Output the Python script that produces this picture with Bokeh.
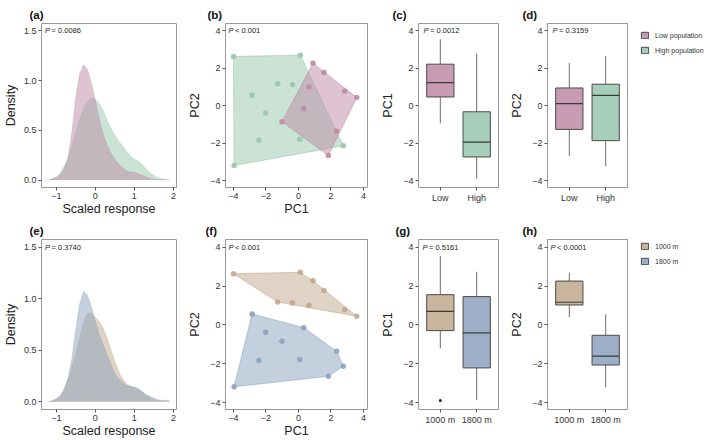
from bokeh.plotting import figure
from bokeh.models import Range1d, FixedTicker, Legend, LegendItem
from bokeh.layouts import row, column
from bokeh.embed import file_html
from bokeh.resources import INLINE
from bokeh.core.properties import value

FONT = "Liberation Sans"

# ---------------- data ----------------
dens_x = [-1.2, -1.1, -1.0, -0.9, -0.8, -0.7, -0.6, -0.5, -0.4, -0.3, -0.2, -0.1,
          0.0, 0.1, 0.2, 0.3, 0.4, 0.5, 0.6, 0.7, 0.8, 0.9, 1.0, 1.1,
          1.2, 1.3, 1.4, 1.5, 1.6, 1.7, 1.8, 1.9]
dens_low = [0.00, 0.01, 0.02, 0.05, 0.11, 0.22, 0.48, 0.83, 1.07, 1.16, 1.11, 0.97,
            0.80, 0.62, 0.46, 0.35, 0.27, 0.21, 0.16, 0.12, 0.09, 0.08, 0.08, 0.06,
            0.045, 0.03, 0.015, 0.008, 0.004, 0.002, 0.001, 0.0]
dens_high = [0.00, 0.01, 0.03, 0.07, 0.14, 0.22, 0.34, 0.48, 0.62, 0.72, 0.79, 0.83,
             0.81, 0.77, 0.70, 0.60, 0.52, 0.45, 0.39, 0.34, 0.29, 0.24, 0.21, 0.19,
             0.16, 0.11, 0.07, 0.045, 0.025, 0.012, 0.006, 0.002]
dens_1000 = [0.00, 0.01, 0.03, 0.06, 0.13, 0.22, 0.33, 0.47, 0.62, 0.78, 0.86, 0.86,
             0.82, 0.78, 0.71, 0.62, 0.50, 0.39, 0.29, 0.22, 0.17, 0.15, 0.14, 0.12,
             0.09, 0.06, 0.04, 0.02, 0.01, 0.005, 0.002, 0.0]
dens_1800 = [0.00, 0.01, 0.025, 0.05, 0.11, 0.22, 0.42, 0.70, 0.95, 1.07, 1.03, 0.92,
             0.78, 0.65, 0.55, 0.46, 0.36, 0.27, 0.22, 0.19, 0.16, 0.15, 0.14, 0.13,
             0.10, 0.07, 0.05, 0.035, 0.02, 0.015, 0.012, 0.01]

pc1 = [-4.00, 0.12, 0.89, 1.57, -1.28, -0.37, 0.64, 2.85, 3.59, -2.85,
       0.33, -2.02, -1.01, -2.43, 0.08, 2.35, 2.76, 1.84, -3.96]
pc2 = [2.64, 2.71, 2.28, 1.78, 1.18, 1.13, 1.01, 0.79, 0.45, 0.57,
       -0.14, -0.38, -0.84, -1.83, -1.78, -1.35, -2.12, -2.64, -3.18]
population = ["High", "High", "Low", "Low", "High", "High", "Low", "Low", "Low", "High",
              "Low", "High", "Low", "High", "High", "Low", "High", "Low", "High"]
altitude = ["1000 m"] * 9 + ["1800 m"] * 10

pop_groups = ["Low", "High"]
alt_groups = ["1000 m", "1800 m"]

pc1_pop_lower = [-0.92, -3.89]
pc1_pop_q1 = [0.48, -2.72]
pc1_pop_med = [1.25, -1.93]
pc1_pop_q3 = [2.23, -0.31]
pc1_pop_upper = [3.56, 2.79]

pc2_pop_lower = [-2.67, -3.20]
pc2_pop_q1 = [-1.25, -1.85]
pc2_pop_med = [0.12, 0.57]
pc2_pop_q3 = [0.96, 1.16]
pc2_pop_upper = [2.29, 2.67]

pc1_alt_lower = [-1.20, -3.86]
pc1_alt_q1 = [-0.29, -2.21]
pc1_alt_med = [0.70, -0.41]
pc1_alt_q3 = [1.56, 1.46]
pc1_alt_upper = [3.55, 2.74]
pc1_alt_outlier_group = ["1000 m"]
pc1_alt_outlier_value = [-3.89]

pc2_alt_lower = [0.41, -3.21]
pc2_alt_q1 = [1.03, -2.06]
pc2_alt_med = [1.17, -1.60]
pc2_alt_q3 = [2.26, -0.53]
pc2_alt_upper = [2.69, 0.55]

p_values = ["= 0.0086", "< 0.001", "= 0.0012", "= 0.3159",
            "= 0.3740", "< 0.001", "= 0.5161", "< 0.0001"]
panel_letters = ["(a)", "(b)", "(c)", "(d)", "(e)", "(f)", "(g)", "(h)"]

COL = {"Low": "#BE89A4", "High": "#98C6AF", "1000 m": "#C0A78C", "1800 m": "#8CA1BE"}
LEGEND_LABEL = {"Low": "Low population", "High": "High population",
                "1000 m": "1000 m", "1800 m": "1800 m"}

PC_RANGE = (-4.35, 4.40)
PC_TICKS = [-4, -2, 0, 2, 4]
MINUS = {-4: "\u22124", -2: "\u22122", -1: "\u22121"}
NAN = float("nan")


# ---------------- helpers ----------------
def make_fig(width, height, xr, yr, bl, br, bt, bb, letter, loff):
    p = figure(width=width, height=height, x_range=Range1d(*xr), y_range=Range1d(*yr),
               output_backend="svg", toolbar_location=None, title=letter,
               min_border_left=bl, min_border_right=br,
               min_border_top=bt, min_border_bottom=bb)
    p.title.align = "left"
    p.title.vertical_align = "top"
    p.title.offset = loff
    p.title.standoff = 2
    p.title.text_font = FONT
    p.title.text_font_size = "11.5px"
    p.title.text_font_style = "bold"
    p.title.text_color = "#111111"
    p.xgrid.visible = False
    p.ygrid.visible = False
    p.outline_line_color = "#9a9a9a"
    p.outline_line_width = 1
    p.background_fill_color = "white"
    p.border_fill_color = "white"
    for ax in (p.xaxis[0], p.yaxis[0]):
        ax.axis_line_color = None
        ax.major_tick_line_color = "#555555"
        ax.major_tick_out = 3
        ax.major_tick_in = 0
        ax.minor_tick_line_color = None
        ax.major_label_text_font = FONT
        ax.major_label_text_font_size = "9px"
        ax.major_label_text_color = "#333333"
        ax.major_label_standoff = 2
        ax.axis_label_text_font = FONT
        ax.axis_label_text_font_size = "12.5px"
        ax.axis_label_text_font_style = "normal"
        ax.axis_label_text_color = "#222222"
        ax.axis_label_standoff = 5
    p.xaxis.axis_label_standoff = 0
    return p


def add_p(p, text, xoff, ytick):
    x0 = p.x_range.start
    p.text(x=[x0], y=[ytick], text=["P"], text_font=value(FONT), text_font_style="italic",
           text_font_size="7.5px", text_baseline="middle", text_align="left",
           x_offset=xoff, text_color="#222222")
    p.text(x=[x0], y=[ytick], text=[text], text_font=value(FONT),
           text_font_size="7.5px", text_baseline="middle", text_align="left",
           x_offset=xoff + 6.5, text_color="#222222")


def hull(xs, ys):
    pts = sorted(set(zip(xs, ys)))
    def cross(o, a, b):
        return (a[0] - o[0]) * (b[1] - o[1]) - (a[1] - o[1]) * (b[0] - o[0])
    lower, upper = [], []
    for pt in pts:
        while len(lower) >= 2 and cross(lower[-2], lower[-1], pt) <= 0:
            lower.pop()
        lower.append(pt)
    for pt in reversed(pts):
        while len(upper) >= 2 and cross(upper[-2], upper[-1], pt) <= 0:
            upper.pop()
        upper.append(pt)
    h = lower[:-1] + upper[:-1]
    return [q[0] for q in h], [q[1] for q in h]


def density_panel(height, bt, bb, letter, loff, ptxt, curves):
    p = make_fig(180, height, (-1.38, 2.08), (-0.075, 1.575), 37, 4, bt, bb, letter, loff)
    p.xaxis.ticker = FixedTicker(ticks=[-1, 0, 1, 2])
    p.xaxis.major_label_overrides = {-1: "\u22121"}
    p.yaxis.ticker = FixedTicker(ticks=[0, 0.5, 1, 1.5])
    p.yaxis.major_label_overrides = {0: "0.0", 0.5: "0.5", 1: "1.0", 1.5: "1.5"}
    p.xaxis.axis_label = "Scaled response"
    p.yaxis.axis_label = "Density"
    p.yaxis.axis_label_standoff = 3
    for grp, ys in curves:
        p.varea(x=dens_x, y1=[0] * len(ys), y2=ys, fill_color=COL[grp], fill_alpha=0.5)
        p.line(x=dens_x, y=ys, line_color=COL[grp], line_alpha=0.6, line_width=0.6)
    add_p(p, ptxt, 3.5, 1.5)
    return p


def pca_panel(height, bt, bb, letter, loff, ptxt, groups, labels):
    p = make_fig(190, height, (-4.49, 4.25), PC_RANGE, 45, 3, bt, bb, letter, loff)
    p.xaxis.ticker = FixedTicker(ticks=PC_TICKS)
    p.yaxis.ticker = FixedTicker(ticks=PC_TICKS)
    p.xaxis.major_label_overrides = MINUS
    p.yaxis.major_label_overrides = MINUS
    p.xaxis.axis_label = "PC1"
    p.yaxis.axis_label = "PC2"
    for g in groups:
        xs = [a for a, l in zip(pc1, labels) if l == g]
        ys = [b for b, l in zip(pc2, labels) if l == g]
        hx, hy = hull(xs, ys)
        p.patch(hx, hy, fill_color=COL[g], fill_alpha=0.5, line_color=COL[g], line_alpha=0.7,
                line_width=0.8)
    for g in groups:
        xs = [a for a, l in zip(pc1, labels) if l == g]
        ys = [b for b, l in zip(pc2, labels) if l == g]
        p.scatter(xs, ys, size=5.5, fill_color=COL[g], fill_alpha=0.9, line_color=None)
    add_p(p, ptxt, 3, 4)
    return p


def box_panel(width, height, bl, br, bt, bb, letter, loff, ptxt, pxoff, groups, ylabel,
              lower, q1, med, q3, upper, out_g=None, out_v=None):
    p = make_fig(width, height, (0.4, 2.6), PC_RANGE, bl, br, bt, bb, letter, loff)
    pos = [i + 1 for i in range(len(groups))]
    p.xaxis.ticker = FixedTicker(ticks=pos)
    p.xaxis.major_label_overrides = {k: g for k, g in zip(pos, groups)}
    p.yaxis.ticker = FixedTicker(ticks=PC_TICKS)
    p.yaxis.major_label_overrides = MINUS
    p.yaxis.axis_label = ylabel
    p.segment(x0=pos, y0=q3, x1=pos, y1=upper, line_color="#6e6e6e", line_width=1)
    p.segment(x0=pos, y0=q1, x1=pos, y1=lower, line_color="#6e6e6e", line_width=1)
    for i, g in enumerate(groups):
        p.vbar(x=[pos[i]], width=0.75, bottom=[q1[i]], top=[q3[i]],
               fill_color=COL[g], fill_alpha=0.85, line_color="#4a4a4a", line_width=1)
    p.segment(x0=[x - 0.375 for x in pos], y0=med, x1=[x + 0.375 for x in pos], y1=med,
              line_color="#3a3a3a", line_width=1.2)
    if out_g:
        ox = [pos[groups.index(g)] for g in out_g]
        p.scatter(ox, out_v, size=3, fill_color="#222222", line_color=None)
    add_p(p, ptxt, pxoff, 4)
    return p


def legend_fig(width, height, bt, bb, bl, loc, margin, groups):
    p = figure(width=width, height=height, x_range=Range1d(0, 1), y_range=Range1d(0, 1),
               x_axis_type=None, y_axis_type=None, output_backend="svg",
               toolbar_location=None, min_border_left=bl, min_border_top=bt,
               min_border_right=0, min_border_bottom=bb)
    p.outline_line_color = None
    p.background_fill_color = "white"
    p.border_fill_color = "white"
    items = []
    for g in groups:
        r = p.quad(left=[NAN], right=[NAN], top=[NAN], bottom=[NAN], fill_color=COL[g],
                   fill_alpha=0.85, line_color="#4a4a4a", line_width=1)
        items.append(LegendItem(label=LEGEND_LABEL[g], renderers=[r]))
    lg = Legend(items=items, location=loc, margin=margin, padding=0,
                border_line_color=None, background_fill_alpha=0,
                glyph_width=9, glyph_height=8, label_height=8, label_width=10,
                label_standoff=6, spacing=7,
                label_text_font=FONT, label_text_font_size="7px",
                label_text_color="#333333")
    p.add_layout(lg)
    return p


H1, H2 = 218, 222
BT1, BT2 = 23, 21
BB1, BB2 = 28, 30

fa = density_panel(H1, BT1, BB1, panel_letters[0], -12, p_values[0],
                   [("High", dens_high), ("Low", dens_low)])
fb = pca_panel(H1, BT1, BB1, panel_letters[1], -18, p_values[1], ["High", "Low"],
               population)
fc = box_panel(132, H1, 48, 4, BT1, BB1, panel_letters[2], -26, p_values[2], 5,
               pop_groups, "PC1", pc1_pop_lower, pc1_pop_q1, pc1_pop_med, pc1_pop_q3,
               pc1_pop_upper)
fd = box_panel(132, H1, 45, 7, BT1, BB1, panel_letters[3], -25, p_values[3], 5,
               pop_groups, "PC2", pc2_pop_lower, pc2_pop_q1, pc2_pop_med, pc2_pop_q3,
               pc2_pop_upper)
lg1 = legend_fig(75, H1, BT1, BB1, 0, (6, 133), 0, pop_groups)

fe = density_panel(H2, BT2, BB2, panel_letters[4], -12, p_values[4],
                   [("1000 m", dens_1000), ("1800 m", dens_1800)])
ff = pca_panel(H2, BT2, BB2, panel_letters[5], -20, p_values[5], ["1000 m", "1800 m"],
               altitude)
fg = box_panel(132, H2, 48, 4, BT2, BB2, panel_letters[6], -23, p_values[6], 4,
               alt_groups, "PC1", pc1_alt_lower, pc1_alt_q1, pc1_alt_med, pc1_alt_q3,
               pc1_alt_upper, out_g=pc1_alt_outlier_group, out_v=pc1_alt_outlier_value)
fh = box_panel(132, H2, 45, 7, BT2, BB2, panel_letters[7], -25, p_values[7], 3,
               alt_groups, "PC2", pc2_alt_lower, pc2_alt_q1, pc2_alt_med, pc2_alt_q3,
               pc2_alt_upper)
lg2 = legend_fig(75, H2, BT2, BB2, 3, "top_left", 3, alt_groups)

layout = column(row(fa, fb, fc, fd, lg1), row(fe, ff, fg, fh, lg2))

with open("out.html", "w") as f:
    f.write(file_html(layout, INLINE))
